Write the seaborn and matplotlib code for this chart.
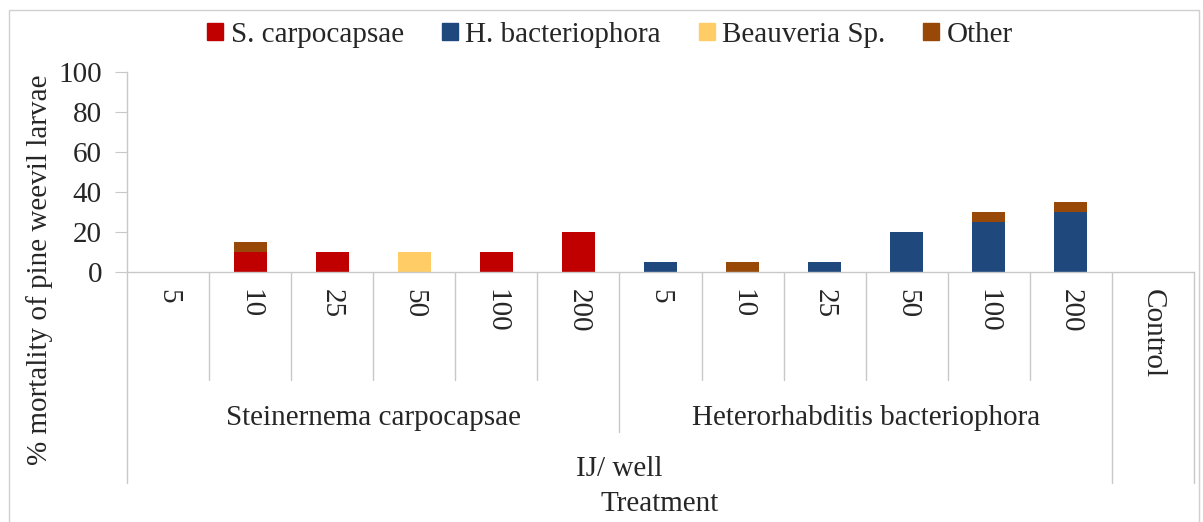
import pandas as pd
import matplotlib.pyplot as plt
import matplotlib.patches as mpatches
import seaborn as sns

# --- data ---
doses = ['5', '10', '25', '50', '100', '200', '5', '10', '25', '50', '100', '200', 'Control']
groups = ['Steinernema carpocapsae', 'Heterorhabditis bacteriophora']
series = ['S. carpocapsae', 'H. bacteriophora', 'Beauveria Sp.', 'Other']
s_carpo = [0, 10, 10, 0, 10, 20, 0, 0, 0, 0, 0, 0, 0]
h_bact = [0, 0, 0, 0, 0, 0, 5, 0, 5, 20, 25, 30, 0]
beauveria = [0, 0, 0, 10, 0, 0, 0, 0, 0, 0, 0, 0, 0]
other = [0, 5, 0, 0, 0, 0, 0, 5, 0, 0, 5, 5, 0]

COLORS = ['#C00000', '#1F497D', '#FFCC66', '#984807']
GRID = '#c8c8c8'
FS = 21

sns.set_style('white')
plt.rcParams['font.family'] = ['Liberation Serif', 'DejaVu Serif']

slot = [f'{i}' for i in range(len(doses))]
df = pd.DataFrame({'slot': slot, 'S. carpocapsae': s_carpo, 'H. bacteriophora': h_bact,
                   'Beauveria Sp.': beauveria, 'Other': other})
cum = df[series].cumsum(axis=1)

fig = plt.figure(figsize=(12.03, 5.22), dpi=100)
ax = fig.add_axes([127 / 1203, 1 - 272 / 522, (1194 - 127) / 1203, 200 / 522])

# stacked bars: draw cumulative totals from top layer down
for name, col in reversed(list(zip(series, COLORS))):
    sns.barplot(x=df['slot'], y=cum[name], color=col, width=0.4, ax=ax,
                saturation=1, linewidth=0, order=slot)

ax.set_xlim(-0.5, len(doses) - 0.5)
ax.set_ylim(0, 100)
ax.set_yticks(range(0, 101, 20))
ax.tick_params(axis='y', labelsize=FS, length=9, color=GRID, direction='out', left=True, pad=9)
ax.set_xticks(range(len(doses)))
ax.set_xticklabels(doses, rotation=270, fontsize=FS, va='top')
ax.tick_params(axis='x', length=0, pad=12)
ax.set_xlabel('')
ax.set_ylabel('')
for side in ['top', 'right']:
    ax.spines[side].set_visible(False)
for side in ['left', 'bottom']:
    ax.spines[side].set_color(GRID)
    ax.spines[side].set_linewidth(1)

# multi-level category dividers
tr = ax.get_xaxis_transform()
for b in range(1, 12):
    if b == 6:
        continue
    ax.plot([b - 0.5, b - 0.5], [0, -0.54], color=GRID, lw=1, transform=tr, clip_on=False)
ax.plot([5.5, 5.5], [0, -0.8], color=GRID, lw=1, transform=tr, clip_on=False)
for b in [-0.5, 11.5, 12.5]:
    ax.plot([b, b], [0, -1.055], color=GRID, lw=1, transform=tr, clip_on=False)

ax.text(2.5, -0.73, groups[0], transform=tr, ha='center', va='center', fontsize=FS)
ax.text(8.5, -0.73, groups[1], transform=tr, ha='center', va='center', fontsize=FS)
ax.text(5.5, -0.985, 'IJ/ well', transform=tr, ha='center', va='center', fontsize=FS)
fig.text(660 / 1203, 1 - 504 / 522, 'Treatment', ha='center', va='center', fontsize=FS)
fig.text(40 / 1203, 1 - 270 / 522, '% mortality of pine weevil larvae', rotation=90,
         ha='center', va='center', fontsize=FS)

handles = [mpatches.Patch(color=c, label=s) for s, c in zip(series, COLORS)]
fig.legend(handles=handles, loc='center', bbox_to_anchor=(610 / 1203, 1 - 35 / 522), ncol=4,
           frameon=False, fontsize=FS, handlelength=0.55, handleheight=0.55,
           handletextpad=0.25, columnspacing=1.3)

# outer chart border
fig.patches.append(mpatches.Rectangle((9 / 1203, -0.05), 1190 / 1203, 1 - 10 / 522 + 0.05,
                                      transform=fig.transFigure, fill=False,
                                      edgecolor='#d0d0d0', lw=1))

fig.savefig('out.png', dpi=100)
